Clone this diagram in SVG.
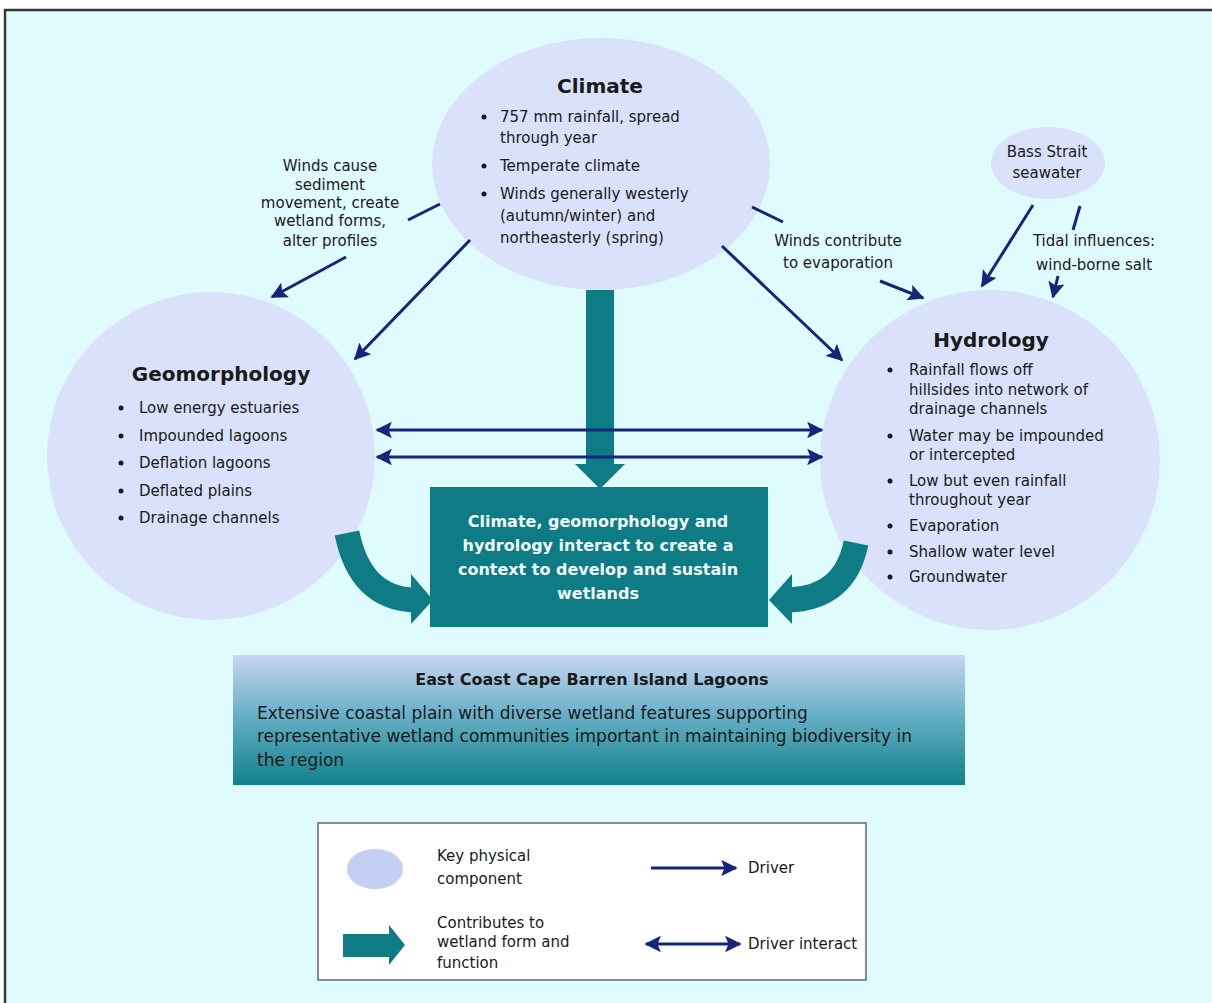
<svg xmlns="http://www.w3.org/2000/svg" width="1212" height="1003" viewBox="0 0 1212 1003">
<defs>
<style>
.t{font-family:"DejaVu Sans","Liberation Sans",Arial,sans-serif;fill:#1a1a1a;}
.b{font-size:15px;}
.h{font-size:20px;font-weight:bold;}
.c{text-anchor:middle;}
.comp{fill:#d9e1fb;}
.drv{stroke:#15257a;stroke-width:3;fill:none;}
.teal{fill:#0f7b84;}
.w{fill:#f2fbfb;font-family:"DejaVu Sans","Liberation Sans",Arial,sans-serif;font-size:16px;font-weight:bold;text-anchor:middle;}
</style>
<marker id="ah" viewBox="0 0 10 10" refX="9" refY="5" markerWidth="5.5" markerHeight="5.5" orient="auto-start-reverse" markerUnits="strokeWidth">
<path d="M0,0 L10,5 L0,10 L2,5 Z" fill="#15257a"/>
</marker>
<linearGradient id="grad" x1="0" y1="0" x2="0" y2="1">
<stop offset="0" stop-color="#cad6f2"/>
<stop offset="0.45" stop-color="#6ab0c8"/>
<stop offset="1" stop-color="#11818a"/>
</linearGradient>
</defs>
<rect x="0" y="0" width="1212" height="1003" fill="#ffffff"/>
<rect x="5" y="10" width="1220" height="1010" fill="#e0fbfd" stroke="#3a3a3a" stroke-width="2.5"/>

<g id="climate">
<ellipse class="comp" cx="601" cy="164" rx="169" ry="126"/>
<text class="t h c" x="600" y="93">Climate</text>
<circle cx="484" cy="117" r="2.5" fill="#1a1a1a"/>
<text class="t b" x="500" y="122">757 mm rainfall, spread</text>
<text class="t b" x="500" y="143">through year</text>
<circle cx="484" cy="166" r="2.5" fill="#1a1a1a"/>
<text class="t b" x="500" y="171">Temperate climate</text>
<circle cx="484" cy="194" r="2.5" fill="#1a1a1a"/>
<text class="t b" x="500" y="199">Winds generally westerly</text>
<text class="t b" x="500" y="221">(autumn/winter) and</text>
<text class="t b" x="500" y="243">northeasterly (spring)</text>
</g>

<g id="bass-strait">
<ellipse class="comp" cx="1048" cy="163" rx="57" ry="36"/>
<text class="t b c" x="1047" y="157">Bass Strait</text>
<text class="t b c" x="1047" y="178">seawater</text>
</g>

<g id="geomorphology">
<circle class="comp" cx="211" cy="456" r="164"/>
<text class="t h c" x="221" y="381">Geomorphology</text>
<circle cx="121" cy="408" r="2.5" fill="#1a1a1a"/>
<text class="t b" x="139" y="413">Low energy estuaries</text>
<circle cx="121" cy="436" r="2.5" fill="#1a1a1a"/>
<text class="t b" x="139" y="441">Impounded lagoons</text>
<circle cx="121" cy="463" r="2.5" fill="#1a1a1a"/>
<text class="t b" x="139" y="468">Deflation lagoons</text>
<circle cx="121" cy="491" r="2.5" fill="#1a1a1a"/>
<text class="t b" x="139" y="496">Deflated plains</text>
<circle cx="121" cy="518" r="2.5" fill="#1a1a1a"/>
<text class="t b" x="139" y="523">Drainage channels</text>
</g>

<g id="hydrology">
<circle class="comp" cx="990" cy="460" r="170"/>
<text class="t h c" x="991" y="347">Hydrology</text>
<circle cx="890" cy="370" r="2.5" fill="#1a1a1a"/>
<text class="t b" x="909" y="375">Rainfall flows off</text>
<text class="t b" x="909" y="395">hillsides into network of</text>
<text class="t b" x="909" y="414">drainage channels</text>
<circle cx="890" cy="436" r="2.5" fill="#1a1a1a"/>
<text class="t b" x="909" y="441">Water may be impounded</text>
<text class="t b" x="909" y="460">or intercepted</text>
<circle cx="890" cy="481" r="2.5" fill="#1a1a1a"/>
<text class="t b" x="909" y="486">Low but even rainfall</text>
<text class="t b" x="909" y="505">throughout year</text>
<circle cx="890" cy="526" r="2.5" fill="#1a1a1a"/>
<text class="t b" x="909" y="531">Evaporation</text>
<circle cx="890" cy="552" r="2.5" fill="#1a1a1a"/>
<text class="t b" x="909" y="557">Shallow water level</text>
<circle cx="890" cy="577" r="2.5" fill="#1a1a1a"/>
<text class="t b" x="909" y="582">Groundwater</text>
</g>

<g id="context-box">
<rect class="teal" x="430" y="487" width="338" height="140"/>
<text class="w" x="598" y="527">Climate, geomorphology and</text>
<text class="w" x="598" y="551">hydrology interact to create a</text>
<text class="w" x="598" y="575">context to develop and sustain</text>
<text class="w" x="598" y="599">wetlands</text>
</g>

<g id="connectors">
<rect class="teal" x="586" y="290" width="28" height="176"/>
<path class="teal" d="M575,464 L625,464 L600,489 Z"/>
<path d="M347,533 Q360,598 414,600" stroke="#0f7b84" stroke-width="25" fill="none"/>
<path class="teal" d="M411,574 L433,600 L411,624 Z"/>
<path d="M856,543 Q845,598 789,600" stroke="#0f7b84" stroke-width="25" fill="none"/>
<path class="teal" d="M792,574 L769,600 L792,624 Z"/>
<line class="drv" x1="440" y1="204" x2="408" y2="220"/>
<line class="drv" x1="346" y1="257" x2="272" y2="297" marker-end="url(#ah)"/>
<line class="drv" x1="470" y1="240" x2="355" y2="359" marker-end="url(#ah)"/>
<line class="drv" x1="752" y1="207" x2="783" y2="222"/>
<line class="drv" x1="880" y1="281" x2="923" y2="298" marker-end="url(#ah)"/>
<line class="drv" x1="722" y1="246" x2="842" y2="360" marker-end="url(#ah)"/>
<line class="drv" x1="1033" y1="205" x2="982" y2="286" marker-end="url(#ah)"/>
<line class="drv" x1="1080" y1="206" x2="1073" y2="230"/>
<line class="drv" x1="1058" y1="276" x2="1053" y2="297" marker-end="url(#ah)"/>
<line class="drv" x1="377" y1="430" x2="822" y2="430" marker-start="url(#ah)" marker-end="url(#ah)"/>
<line class="drv" x1="377" y1="457" x2="822" y2="457" marker-start="url(#ah)" marker-end="url(#ah)"/>
</g>

<g id="driver-labels">
<text class="t b c" x="330" y="171">Winds cause</text>
<text class="t b c" x="330" y="190">sediment</text>
<text class="t b c" x="330" y="208">movement, create</text>
<text class="t b c" x="330" y="226">wetland forms,</text>
<text class="t b c" x="330" y="246">alter profiles</text>
<text class="t b c" x="838" y="246">Winds contribute</text>
<text class="t b c" x="838" y="268">to evaporation</text>
<text class="t b c" x="1094" y="246">Tidal influences:</text>
<text class="t b c" x="1094" y="270">wind-borne salt</text>
</g>

<g id="summary">
<rect x="233" y="655" width="732" height="130" fill="url(#grad)"/>
<text class="t c" x="592" y="685" font-size="16" font-weight="bold">East Coast Cape Barren Island Lagoons</text>
<text class="t" x="257" y="719" font-size="17">Extensive coastal plain with diverse wetland features supporting</text>
<text class="t" x="257" y="742" font-size="17">representative wetland communities important in maintaining biodiversity in</text>
<text class="t" x="257" y="766" font-size="17">the region</text>
</g>

<g id="legend">
<rect x="318" y="823" width="548" height="157" fill="#ffffff" stroke="#666666" stroke-width="1.5"/>
<ellipse cx="375" cy="869" rx="28" ry="20" fill="#c4cff4"/>
<text class="t b" x="437" y="861">Key physical</text>
<text class="t b" x="437" y="884">component</text>
<path class="teal" d="M343,934 L389,934 L389,925 L405,945 L389,965 L389,957 L343,957 Z"/>
<text class="t b" x="437" y="928">Contributes to</text>
<text class="t b" x="437" y="947">wetland form and</text>
<text class="t b" x="437" y="968">function</text>
<line class="drv" x1="651" y1="868" x2="736" y2="868" marker-end="url(#ah)"/>
<text class="t b" x="748" y="873">Driver</text>
<line class="drv" x1="646" y1="944" x2="740" y2="944" marker-start="url(#ah)" marker-end="url(#ah)"/>
<text class="t b" x="748" y="949">Driver interact</text>
</g>
</svg>
